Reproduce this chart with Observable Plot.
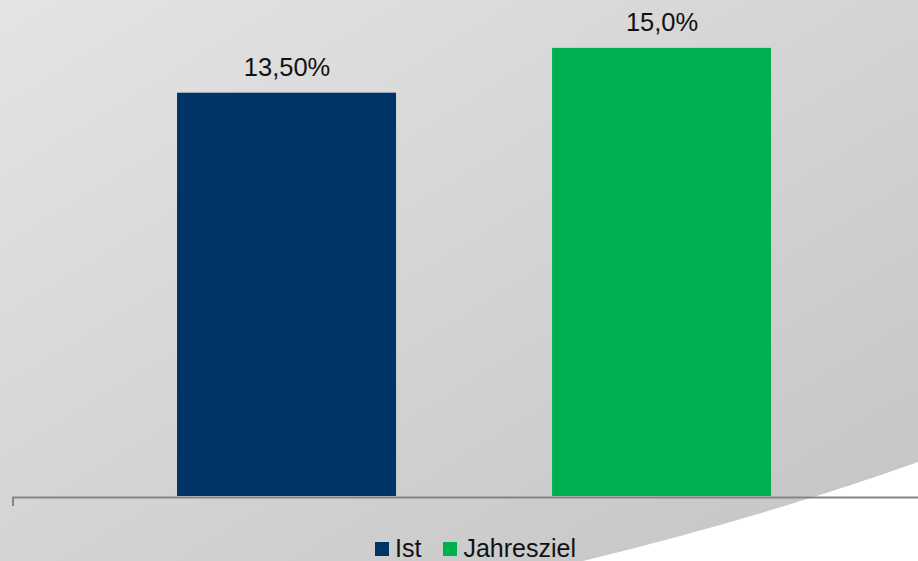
<!DOCTYPE html>
<html>
<head>
<meta charset="utf-8">
<script src="https://cdn.jsdelivr.net/npm/d3@7"></script>
<script src="https://cdn.jsdelivr.net/npm/@observablehq/plot@0.6"></script>
<style>
  html, body { margin: 0; padding: 0; }
  #wrap {
    position: relative; width: 918px; height: 561px; overflow: hidden;
    background: linear-gradient(to bottom right, #e4e4e4, #c4c4c4);
    font-family: "Liberation Sans", Arial, sans-serif;
  }
  #wrap svg { display: block; }
  #legend {
    position: absolute; left: 375px; top: 536px;
    display: flex; align-items: flex-start; font-size: 25px; line-height: 25px; color: #111;
  }
  .item { display: flex; align-items: flex-start; margin-right: 22px; }
  .sw { width: 14px; height: 14px; margin-top: 6px; margin-right: 6px; }
</style>
</head>
<body>
<div id="wrap"></div>
<script>
const categories = ["Ist", "Jahresziel"];
const values = [13.5, 15.0];
const labels = ["13,50%", "15,0%"];
const colors = ["#003366", "#00B050"];

const data = categories.map((c, i) => ({category: c, value: values[i], label: labels[i]}));

const chart = Plot.plot({
  width: 918,
  height: 561,
  marginLeft: 12,
  marginRight: 0,
  marginTop: 18,
  marginBottom: 65,
  style: {background: "transparent", fontFamily: "'Liberation Sans', Arial, sans-serif", overflow: "visible"},
  x: {domain: categories, paddingInner: 0.416, paddingOuter: 0.416, align: 0.529, round: false, axis: null},
  y: {domain: [0, 16], axis: null},
  color: {domain: categories, range: colors},
  marks: [
    Plot.barY(data, {x: "category", y: "value", fill: "category"}),
    Plot.ruleY([0], {stroke: "#858585", strokeWidth: 2, dy: 1}),
    Plot.text(data, {x: "category", y: "value", text: "label", dy: -17, lineAnchor: "bottom", fontSize: 25.5, fill: "#111"})
  ]
});

const svg = d3.select(chart);
// background swoosh (decorative)
svg.insert("path", ":first-child")
  .attr("d", "M583,561 Q770,515 918,462 L918,561 Z")
  .attr("fill", "#ffffff");
// axis boundary tick
const y0 = chart.scale("y").apply(0);
svg.append("line")
  .attr("x1", 13).attr("x2", 13)
  .attr("y1", y0 + 1).attr("y2", y0 + 10)
  .attr("stroke", "#858585").attr("stroke-width", 2);

const wrap = document.getElementById("wrap");
wrap.appendChild(chart);

const legend = document.createElement("div");
legend.id = "legend";
categories.forEach((c, i) => {
  const item = document.createElement("div");
  item.className = "item";
  const sw = document.createElement("div");
  sw.className = "sw";
  sw.style.background = colors[i];
  const t = document.createElement("span");
  t.textContent = c;
  item.appendChild(sw);
  item.appendChild(t);
  legend.appendChild(item);
});
wrap.appendChild(legend);
</script>
</body>
</html>
